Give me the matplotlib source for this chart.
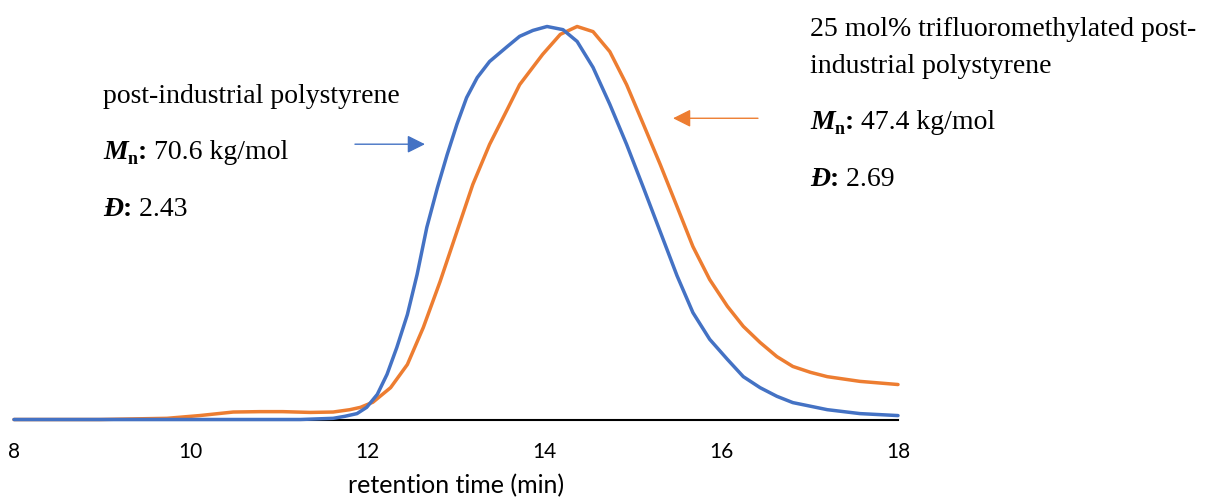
import matplotlib
matplotlib.use("Agg")
import matplotlib.pyplot as plt

# retention time (min) and normalised detector response
t_ps = [8.00, 9.73, 11.24, 11.61, 11.74, 11.88, 11.99, 12.11, 12.22, 12.33, 12.45,
        12.56, 12.67, 12.79, 12.90, 13.01, 13.12, 13.24, 13.38, 13.58, 13.72, 13.87,
        14.03, 14.21, 14.37, 14.55, 14.74, 14.93, 15.12, 15.31, 15.50, 15.68, 15.87,
        16.07, 16.25, 16.44, 16.63, 16.81, 17.20, 17.57, 18.00]
ri_ps = [0.0, 0.0, 0.0, 0.003, 0.008, 0.015, 0.031, 0.064, 0.115, 0.183, 0.267,
         0.369, 0.489, 0.590, 0.674, 0.751, 0.819, 0.870, 0.911, 0.949, 0.975, 0.990,
         1.0, 0.992, 0.962, 0.896, 0.802, 0.700, 0.590, 0.478, 0.366, 0.272, 0.204,
         0.153, 0.109, 0.081, 0.059, 0.043, 0.025, 0.015, 0.010]

t_cf3 = [8.00, 8.97, 9.73, 10.10, 10.48, 10.78, 11.04, 11.35, 11.61, 11.80, 11.92,
         12.06, 12.26, 12.45, 12.63, 12.82, 13.01, 13.19, 13.38, 13.58, 13.72, 13.98,
         14.18, 14.37, 14.55, 14.74, 14.93, 15.12, 15.31, 15.50, 15.68, 15.87, 16.07,
         16.25, 16.44, 16.63, 16.81, 17.01, 17.20, 17.57, 18.00]
ri_cf3 = [0.0, 0.0, 0.003, 0.010, 0.019, 0.020, 0.020, 0.018, 0.019, 0.025, 0.031,
          0.044, 0.081, 0.140, 0.234, 0.351, 0.478, 0.598, 0.700, 0.789, 0.852, 0.929,
          0.980, 1.0, 0.987, 0.936, 0.852, 0.751, 0.649, 0.542, 0.440, 0.356, 0.288,
          0.237, 0.196, 0.160, 0.135, 0.120, 0.109, 0.097, 0.089]

xticks = [8, 10, 12, 14, 16, 18]

BLUE = "#4472C4"
ORANGE = "#ED7D31"
SERIF = ["Liberation Serif", "DejaVu Serif"]
SANS = ["Lato", "DejaVu Sans"]
FS = 20

fig = plt.figure(figsize=(12.09, 4.99), dpi=100)
ax = fig.add_axes([14 / 1209, 79.5 / 499, 884 / 1209, 419.5 / 499])

ax.plot(t_ps, ri_ps, color=BLUE, lw=2.5, solid_capstyle="round",
        solid_joinstyle="round", clip_on=False, zorder=3)
ax.plot(t_cf3, ri_cf3, color=ORANGE, lw=2.5, solid_capstyle="round",
        solid_joinstyle="round", clip_on=False, zorder=2)

ax.set_xlim(8, 18)
ax.set_ylim(0, 419.5 / 393)
for s in ["top", "right", "left"]:
    ax.spines[s].set_visible(False)
ax.spines["bottom"].set_linewidth(1.5)
ax.set_yticks([])
ax.set_xticks(xticks)
ax.set_xticklabels([str(v) for v in xticks], family=SANS, fontsize=15)
ax.tick_params(axis="x", length=0, pad=16)
ax.set_xlabel("retention time (min)", family=SANS, fontsize=18, labelpad=9)


def rich_line(x, y, parts):
    # parts: (text, weight, style, size, dy)
    s, w, st, sz, dy = parts[0]
    first = ax.text(x, y, s, family=SERIF, weight=w, style=st, fontsize=sz, va="baseline")
    prev = first
    for s, w, st, sz, dy in parts[1:]:
        prev = ax.annotate(s, xy=(1, 0), xycoords=(prev, first), xytext=(0, dy),
                           textcoords="offset points", family=SERIF, weight=w, style=st,
                           fontsize=sz, va="bottom", annotation_clip=False)


def stats_block(x, y_mn, y_d, mn, disp):
    rich_line(x, y_mn, [("M", "bold", "italic", FS, 0),
                        ("n", "bold", "normal", 13, -2),
                        (":", "bold", "normal", FS, 0),
                        (" " + mn + " kg/mol", "normal", "normal", FS, 0)])
    rich_line(x, y_d, [("Đ", "bold", "italic", FS, 0),
                       (":", "bold", "normal", FS, 0),
                       (" " + disp, "normal", "normal", FS, 0)])


ax.text(9.007, 0.805, "post-industrial polystyrene", family=SERIF, fontsize=FS, va="baseline")
stats_block(9.007, 0.662, 0.518, "70.6", "2.43")

ax.text(17.005, 0.975, "25 mol% trifluoromethylated post-", family=SERIF, fontsize=FS, va="baseline")
ax.text(17.005, 0.881, "industrial polystyrene", family=SERIF, fontsize=FS, va="baseline")
stats_block(17.005, 0.739, 0.594, "47.4", "2.69")

ax.annotate("", xy=(12.649, 0.7005), xytext=(11.857, 0.7005),
            arrowprops=dict(arrowstyle="-|>", color=BLUE, lw=1, mutation_scale=27,
                            shrinkA=0, shrinkB=0))
ax.annotate("", xy=(15.455, 0.7665), xytext=(16.416, 0.7665),
            arrowprops=dict(arrowstyle="-|>", color=ORANGE, lw=1, mutation_scale=27,
                            shrinkA=0, shrinkB=0))

fig.savefig("out.png", dpi=100)
